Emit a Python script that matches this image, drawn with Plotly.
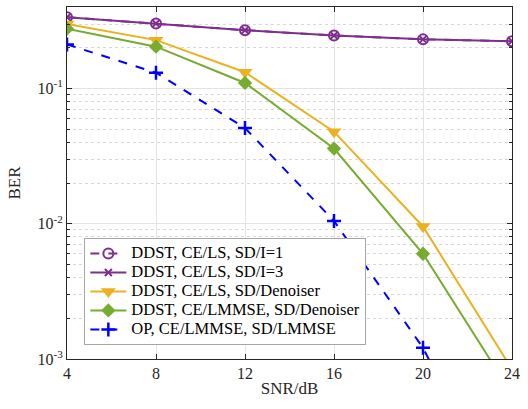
import plotly.graph_objects as go

snr = [4, 8, 12, 16, 20, 24]
ber_i1 = [0.337, 0.303, 0.270, 0.247, 0.231, 0.224]
ber_i3 = [0.337, 0.303, 0.270, 0.247, 0.231, 0.224]
ber_ls_den = [0.300, 0.228, 0.132, 0.048, 0.00955, 0.00084]
ber_lmmse_den = [0.277, 0.204, 0.110, 0.036, 0.0060, 0.00055]
ber_op = [0.212, 0.131, 0.051, 0.0105, 0.00121, 0.00006]

names = ["DDST, CE/LS, SD/I=1", "DDST, CE/LS, SD/I=3", "DDST, CE/LS, SD/Denoiser",
         "DDST, CE/LMMSE, SD/Denoiser", "OP, CE/LMMSE, SD/LMMSE"]
ytickvals = [1e-3, 1e-2, 1e-1]
yticktext = ["10<sup>-3</sup>", "10<sup>-2</sup>", "10<sup>-1</sup>"]
xtickvals = [4, 8, 12, 16, 20, 24]

PURPLE = "#7E2F8E"
YELLOW = "#EDB120"
GREEN = "#77AC30"
BLUE = "#0000FF"
FONT = "Liberation Serif"
AX = "#262626"


def lg(t):
    return '<span style="font-size:16.5px">' + t + '</span>'


fig = go.Figure()
fig.add_trace(go.Scatter(x=snr, y=ber_i1, name=lg(names[0]), mode="lines+markers",
                         line=dict(color=PURPLE, width=2, dash="dash"),
                         marker=dict(symbol="circle-open", size=10, color=PURPLE, line=dict(width=2))))
fig.add_trace(go.Scatter(x=snr, y=ber_i3, name=lg(names[1]), mode="lines+markers",
                         line=dict(color=PURPLE, width=2),
                         marker=dict(symbol="x-thin-open", size=7, color=PURPLE, line=dict(width=2, color=PURPLE))))
fig.add_trace(go.Scatter(x=snr, y=ber_ls_den, name=lg(names[2]), mode="lines+markers",
                         line=dict(color=YELLOW, width=2),
                         marker=dict(symbol="triangle-down", size=13, color=YELLOW)))
fig.add_trace(go.Scatter(x=snr, y=ber_lmmse_den, name=lg(names[3]), mode="lines+markers",
                         line=dict(color=GREEN, width=2),
                         marker=dict(symbol="diamond", size=11, color=GREEN)))
fig.add_trace(go.Scatter(x=snr, y=ber_op, name=lg(names[4]), mode="lines+markers",
                         line=dict(color=BLUE, width=2, dash="dash"),
                         marker=dict(symbol="cross-thin-open", size=10, color=BLUE, line=dict(width=2.5, color=BLUE))))

fig.update_layout(
    width=528, height=409,
    margin=dict(l=67, r=16, t=7, b=50),
    paper_bgcolor="white", plot_bgcolor="white",
    font=dict(family=FONT, size=16, color=AX),
    legend=dict(x=0.039, y=0.04, xanchor="left", yanchor="bottom",
                bgcolor="white", bordercolor="#a6a6a6", borderwidth=1,
                font=dict(family=FONT, size=12, color="black"),
                tracegroupgap=0, itemwidth=36),
    showlegend=True,
)
fig.update_xaxes(
    range=[4, 24], tickvals=xtickvals, ticks="inside", ticklen=5,
    tickcolor=AX, showline=True, linecolor=AX, linewidth=1, mirror="allticks",
    showgrid=True, gridcolor="#e3e3e3", gridwidth=1, zeroline=False,
    title=dict(text="SNR/dB", font=dict(family=FONT, size=17, color=AX), standoff=0),
    tickfont=dict(family=FONT, size=16, color=AX),
)
fig.update_yaxes(
    type="log", range=[-3, -0.397], tickvals=ytickvals, ticktext=yticktext,
    ticks="inside", ticklen=5, tickcolor=AX, showline=True, linecolor=AX, linewidth=1,
    mirror="allticks", showgrid=True, gridcolor="#e3e3e3", gridwidth=1, zeroline=False,
    minor=dict(dtick="D1", showgrid=True, griddash="dot", gridcolor="#d8d8d8",
               ticks="inside", ticklen=3, tickcolor=AX),
    title=dict(text="BER", font=dict(family=FONT, size=17, color=AX), standoff=12),
    tickfont=dict(family=FONT, size=16, color=AX),
)

fig.write_html("out.html")
